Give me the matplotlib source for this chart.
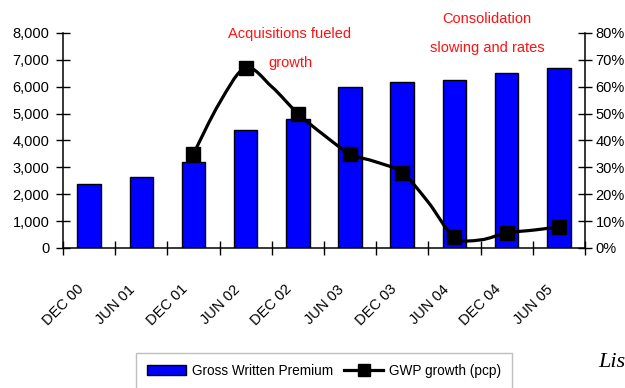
import numpy as np
import matplotlib
matplotlib.use("Agg")
import matplotlib.pyplot as plt
from matplotlib.path import Path
from matplotlib.patches import PathPatch
from matplotlib.lines import Line2D
from matplotlib.ticker import FuncFormatter, PercentFormatter
from matplotlib.transforms import ScaledTranslation

plt.rcParams['font.family'] = ['Liberation Sans', 'DejaVu Sans']

# half-yearly gross written premium
periods = ["DEC 00", "JUN 01", "DEC 01", "JUN 02", "DEC 02",
           "JUN 03", "DEC 03", "JUN 04", "DEC 04", "JUN 05"]
gwp = [2380, 2640, 3200, 4400, 4800, 6000, 6170, 6250, 6500, 6700]

# growth on prior period, quarterly steps (index in half-years), marked every half-year
growth_pos = [2, 2.5, 3, 3.5, 4, 4.5, 5, 5.5, 6, 6.5, 7, 7.5, 8, 8.5, 9]
growth = [35, 54, 67, 60, 50, 42, 35, 32, 28, 17, 4, 3, 5.6, 6.6, 7.8]


def smooth_path(x, y, k=1 / 6):
    """Bezier path through the points, Excel-style smoothed line."""
    pts = np.column_stack([np.asarray(x, float), np.asarray(y, float)])
    verts = [pts[0]]
    codes = [Path.MOVETO]
    n = len(pts)
    for i in range(n - 1):
        p0 = pts[max(i - 1, 0)]
        p1 = pts[i]
        p2 = pts[i + 1]
        p3 = pts[min(i + 2, n - 1)]
        verts += [p1 + (p2 - p0) * k, p2 - (p3 - p1) * k, p2]
        codes += [Path.CURVE4] * 3
    return Path(verts, codes)


fig = plt.figure(figsize=(6.25, 3.88), dpi=100)
ax = fig.add_axes([0.1008, 0.361, 0.835, 0.554])
ax2 = ax.twinx()

x = np.arange(len(periods))
ax.bar(x, gwp, width=0.45, color="#0000FF", edgecolor="black", linewidth=1.0, zorder=2)

ax.set_xlim(-0.5, len(periods) - 0.5)
ax.set_ylim(0, 8000)
ax.set_yticks(np.arange(0, 8001, 1000))
ax.yaxis.set_major_formatter(FuncFormatter(lambda v, p: f"{v:,.0f}"))

ax2.set_ylim(0, 80)
ax2.set_yticks(np.arange(0, 81, 10))
ax2.yaxis.set_major_formatter(PercentFormatter(decimals=0))

ax2.add_patch(PathPatch(smooth_path(growth_pos, growth), facecolor="none",
                        edgecolor="black", lw=2.3, zorder=3))
ax2.plot(growth_pos[::2], growth[::2], ls="none", marker="s", ms=10,
         color="black", zorder=4)

# tick marks between periods, labels under each bar
ax.set_xticks(np.arange(-0.5, len(periods)), [""] * (len(periods) + 1))
ax.set_xticks(x, periods, minor=True)
ax.tick_params(axis="x", which="minor", length=0, pad=26, labelsize=10.5)
shift = ScaledTranslation(-0.08, -0.03, fig.dpi_scale_trans)
for lbl in ax.get_xticklabels(minor=True):
    lbl.set_rotation(45)
    lbl.set_ha("right")
    lbl.set_va("center")
    lbl.set_rotation_mode("anchor")
    lbl.set_transform(lbl.get_transform() + shift)

for a in (ax, ax2):
    a.spines["top"].set_visible(False)
    for s in a.spines.values():
        s.set_linewidth(1.1)
ax.spines["right"].set_visible(False)
ax2.spines["left"].set_visible(False)
ax2.spines["bottom"].set_visible(False)

ax.tick_params(axis="both", which="major", direction="inout", length=9.5,
               width=1.0, labelsize=10.5, colors="black")
ax.tick_params(axis="y", pad=5)
ax2.tick_params(axis="y", direction="inout", length=9.5, width=1.0,
                labelsize=10.5, pad=3)

red = "#FF1010"
fig.text(290 / 625, 1 - 34 / 388, "Acquisitions fueled", color=red,
         ha="center", va="center", fontsize=10.5)
fig.text(290 / 625, 1 - 63 / 388, "growth", color=red,
         ha="center", va="center", fontsize=10.5)
fig.text(487 / 625, 1 - 19 / 388, "Consolidation", color=red,
         ha="center", va="center", fontsize=10.5)
fig.text(487 / 625, 1 - 48 / 388, "slowing and rates", color=red,
         ha="center", va="center", fontsize=10.5)

handles = [
    plt.Rectangle((0, 0), 1, 1, facecolor="#0000FF", edgecolor="black", lw=1.0),
    Line2D([], [], color="black", lw=2.3, marker="s", ms=8),
]
leg = fig.legend(handles, ["Gross Written Premium", "GWP growth (pcp)"],
                 loc="upper left", bbox_to_anchor=(136 / 625, 1 - 353 / 388),
                 ncol=2, fontsize=9.8, frameon=True, fancybox=False,
                 handlelength=2.9, handleheight=0.8, handletextpad=0.4,
                 columnspacing=0.8, borderpad=0.8, borderaxespad=0)
leg.get_frame().set_edgecolor("#B0B0B0")
leg.get_frame().set_linewidth(1.0)

fig.text(598 / 625, 1 - 367 / 388, "Lis", fontsize=16, style="italic",
         family="Liberation Serif", ha="left", va="baseline")

fig.savefig("out.png", dpi=100)
